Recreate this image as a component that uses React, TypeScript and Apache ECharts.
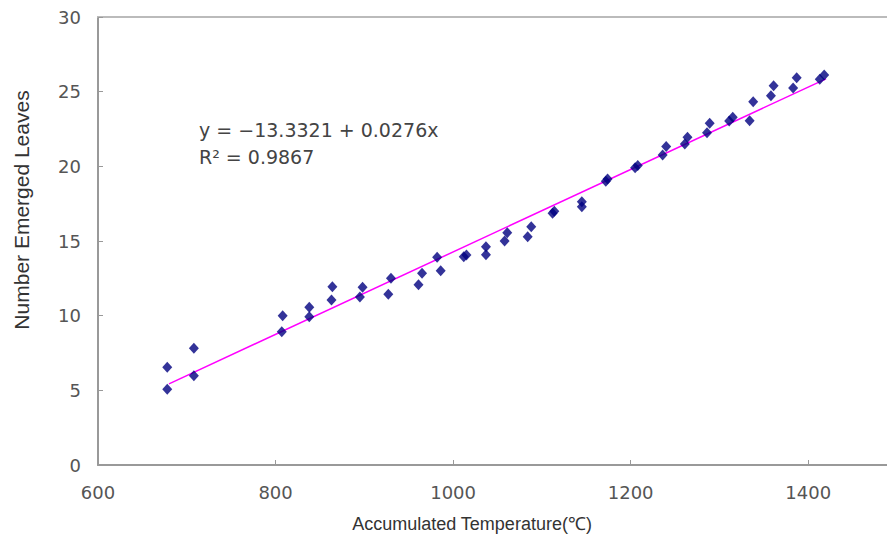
import React, { useEffect, useRef } from "react";
import * as echarts from "echarts";

// Accumulated temperature (°C) of each observation
const temperature = [
  678, 678, 708, 708, 808, 807, 838, 838, 864, 863,
  898, 895, 930, 927, 965, 961, 982, 986, 1012, 1015,
  1037, 1037, 1061, 1058, 1088, 1084, 1112, 1114, 1145, 1145,
  1172, 1174, 1205, 1208, 1240, 1236, 1264, 1261, 1289, 1286,
  1315, 1311, 1338, 1334, 1361, 1358, 1387, 1383, 1418, 1413,
];
// Number of emerged leaves of each observation
const leaves = [
  6.54, 5.07, 7.81, 5.98, 10.0, 8.93, 10.56, 9.93, 11.94, 11.05,
  11.9, 11.25, 12.5, 11.43, 12.84, 12.07, 13.91, 13.01, 13.95, 14.06,
  14.62, 14.08, 15.56, 15.0, 15.96, 15.29, 16.85, 17.0, 17.63, 17.3,
  19.0, 19.15, 19.9, 20.05, 21.32, 20.76, 21.94, 21.5, 22.88, 22.25,
  23.28, 23.04, 24.33, 23.06, 25.4, 24.73, 25.94, 25.25, 26.12, 25.83,
];
// Regression line shown in the chart
const intercept = -13.3321;
const slope = 0.0276;
const trendRange = [680, 1420];
const equationLines = ["y = −13.3321 + 0.0276x", "R² = 0.9867"];
const xTitle = "Accumulated Temperature(℃)";
const yTitle = "Number Emerged Leaves";

export default function App() {
  const ref = useRef<HTMLDivElement>(null);
  useEffect(() => {
    const chart = echarts.init(ref.current!, null, { renderer: "svg" });
    const points = temperature.map((t, i) => [t, leaves[i]]);
    const trend = trendRange.map((t) => [t, intercept + slope * t]);
    const tickFont = { fontFamily: "DejaVu Sans", fontSize: 18, color: "#555" };
    chart.setOption({
      animation: false,
      backgroundColor: "#fff",
      grid: {
        left: 98,
        top: 17,
        width: 799,
        height: 448,
        show: false,
        outerBoundsMode: "none",
      },
      xAxis: [
        {
          type: "value",
          min: 600,
          max: 1500,
          interval: 200,
          splitLine: { show: false },
          axisLine: { lineStyle: { color: "#999", width: 2 } },
          axisTick: { inside: true, length: 5, lineStyle: { color: "#999" } },
          axisLabel: {
            ...tickFont,
            margin: 18,
            showMaxLabel: false,
            formatter: (v: number) => String(v),
          },
        },
        {
          type: "value",
          position: "top",
          min: 600,
          max: 1500,
          splitLine: { show: false },
          axisLine: { show: true, lineStyle: { color: "#bbb", width: 2 } },
          axisTick: { show: false },
          axisLabel: { show: false },
        },
      ],
      yAxis: {
        type: "value",
        min: 0,
        max: 30,
        interval: 5,
        splitLine: { show: false },
        axisLine: { show: true, lineStyle: { color: "#999", width: 2 } },
        axisTick: { show: true, inside: true, length: 5, lineStyle: { color: "#999" } },
        axisLabel: { ...tickFont, margin: 17 },
      },
      series: [
        {
          type: "line",
          data: trend,
          symbol: "none",
          lineStyle: { color: "#ff00ff", width: 1.5 },
          z: 1,
        },
        {
          type: "scatter",
          data: points,
          symbol: "diamond",
          symbolSize: [10, 11],
          itemStyle: { color: "#000080" },
          z: 2,
        },
      ],
      graphic: [
        {
          type: "text",
          left: 199,
          top: 116,
          style: {
            text: equationLines.join("\n"),
            fontFamily: "DejaVu Sans",
            fontSize: 19,
            lineHeight: 27,
            fill: "#444",
          },
        },
        {
          type: "text",
          x: 472,
          y: 524,
          style: {
            text: xTitle,
            fontFamily: "Liberation Sans",
            fontSize: 18,
            fill: "#333",
            align: "center",
            verticalAlign: "middle",
          },
        },
        {
          type: "text",
          x: 21,
          y: 210,
          rotation: Math.PI / 2,
          style: {
            text: yTitle,
            fontFamily: "Liberation Sans",
            fontSize: 21,
            fill: "#333",
            align: "center",
            verticalAlign: "middle",
          },
        },
      ],
    });
    return () => chart.dispose();
  }, []);
  return (
    <div
      ref={ref}
      style={{ position: "absolute", left: 0, top: 0, width: 887, height: 546 }}
    />
  );
}
